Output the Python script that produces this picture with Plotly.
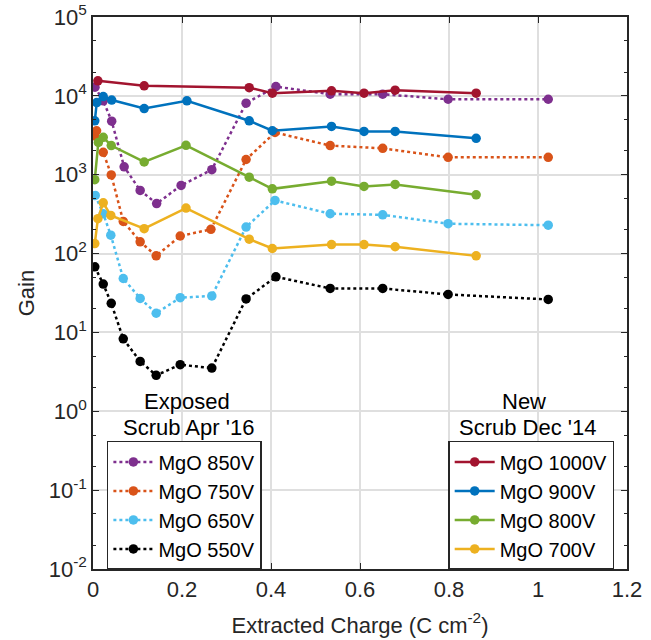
import plotly.graph_objects as go

# ---- data (Extracted charge in C/cm^2, gain) ----
x_1000 = [0.011, 0.115, 0.351, 0.403, 0.536, 0.609, 0.679, 0.861]
y_1000 = [15500, 13400, 12700, 10800, 11600, 10800, 11800, 10800]

x_900 = [0.004, 0.0085, 0.023, 0.042, 0.115, 0.211, 0.351, 0.403, 0.536, 0.609, 0.679, 0.861]
y_900 = [4830, 8230, 9800, 8850, 6910, 8650, 4830, 3610, 4100, 3540, 3540, 2890]

x_800 = [0.004, 0.012, 0.023, 0.041, 0.115, 0.209, 0.351, 0.403, 0.536, 0.609, 0.679, 0.861]
y_800 = [865, 2570, 2980, 2340, 1450, 2360, 930, 662, 828, 710, 752, 556]

x_700 = [0.004, 0.011, 0.023, 0.040, 0.115, 0.209, 0.351, 0.403, 0.536, 0.609, 0.679, 0.861]
y_700 = [134, 277, 440, 305, 207, 378, 152, 116, 130, 130, 122, 93.5]

x_850 = [0.0045, 0.023, 0.042, 0.070, 0.106, 0.143, 0.198, 0.267, 0.344, 0.411, 0.533, 0.651, 0.798, 1.023]
y_850 = [12900, 8650, 4770, 1260, 632, 430, 731, 1160, 8070, 13100, 10500, 10500, 9060, 9060]

x_750 = [0.004, 0.008, 0.023, 0.041, 0.068, 0.106, 0.142, 0.196, 0.265, 0.344, 0.409, 0.533, 0.651, 0.798, 1.023]
y_750 = [3120, 3610, 1920, 994, 256, 141, 93.5, 167, 203, 1560, 3430, 2340, 2160, 1660, 1660]

x_650 = [0.005, 0.023, 0.040, 0.068, 0.106, 0.142, 0.196, 0.267, 0.344, 0.409, 0.533, 0.651, 0.798, 1.023]
y_650 = [546, 320, 171, 48.3, 27.0, 17.5, 27.6, 29.0, 217, 472, 320, 310, 239, 229]

x_550 = [0.004, 0.023, 0.041, 0.068, 0.106, 0.142, 0.196, 0.267, 0.344, 0.411, 0.533, 0.651, 0.798, 1.023]
y_550 = [67.9, 41.1, 23.4, 8.3, 4.29, 2.86, 3.90, 3.53, 26.6, 50.8, 36.1, 36.1, 30.3, 26.2]

y_tick_exp = [-2, -1, 0, 1, 2, 3, 4, 5]
x_ticks = [0, 0.2, 0.4, 0.6, 0.8, 1.0, 1.2]
x_tick_text = ["0", "0.2", "0.4", "0.6", "0.8", "1", "1.2"]

FONT = "Liberation Sans, Arial, sans-serif"
AX = "#262626"

fig = go.Figure()

dotted = [
    ("MgO 850V", x_850, y_850, "#7E2F8E"),
    ("MgO 750V", x_750, y_750, "#D95319"),
    ("MgO 650V", x_650, y_650, "#4DBEEE"),
    ("MgO 550V", x_550, y_550, "#000000"),
]
solid = [
    ("MgO 1000V", x_1000, y_1000, "#A2142F"),
    ("MgO 900V", x_900, y_900, "#0072BD"),
    ("MgO 800V", x_800, y_800, "#77AC30"),
    ("MgO 700V", x_700, y_700, "#EDB120"),
]

for name, xs, ys, col in dotted:
    fig.add_trace(go.Scatter(x=xs, y=ys, name=name, mode="lines+markers",
                             line=dict(color=col, width=2.5, dash="dot"),
                             marker=dict(color=col, size=9.5, symbol="circle"),
                             legend="legend"))
for name, xs, ys, col in solid:
    fig.add_trace(go.Scatter(x=xs, y=ys, name=name, mode="lines+markers",
                             line=dict(color=col, width=2.5),
                             marker=dict(color=col, size=9.5, symbol="circle"),
                             legend="legend2"))

legend_common = dict(
    bgcolor="white", bordercolor=AX, borderwidth=1.5,
    font=dict(family=FONT, size=20, color="black"),
    tracegroupgap=0, itemwidth=40, yanchor="top",
)

fig.update_layout(
    width=651, height=640,
    margin=dict(l=93, r=24, t=17, b=71),
    paper_bgcolor="white", plot_bgcolor="white",
    font=dict(family=FONT, size=21, color=AX),
    legend=dict(x=0.026, y=0.232, xanchor="left", **legend_common),
    legend2=dict(x=0.976, y=0.232, xanchor="right", **legend_common),
    xaxis=dict(
        range=[0, 1.2], tickvals=x_ticks, ticktext=x_tick_text,
        ticks="inside", ticklen=6, tickcolor=AX, automargin=False,
        ticklabeloverflow="allow",
        showline=True, linecolor=AX, linewidth=1.5, mirror="ticks",
        showgrid=True, gridcolor="#DFDFDF", gridwidth=1.5, zeroline=False,
        tickfont=dict(family=FONT, size=22, color=AX),
        title=dict(text="Extracted Charge (C cm<sup>-2</sup>)",
                   font=dict(family=FONT, size=22, color=AX), standoff=16),
    ),
    yaxis=dict(
        type="log", range=[-2, 5], automargin=False,
        ticklabeloverflow="allow",
        tickvals=[10 ** e for e in y_tick_exp],
        ticktext=["10<sup>%d</sup>" % e for e in y_tick_exp],
        ticks="inside", ticklen=6, tickcolor=AX,
        minor=dict(ticks="inside", ticklen=3, tickcolor=AX, showgrid=False),
        showline=True, linecolor=AX, linewidth=1.5, mirror="ticks",
        showgrid=True, gridcolor="#DFDFDF", gridwidth=1.5, zeroline=False,
        tickfont=dict(family=FONT, size=22, color=AX),
        title=dict(text="Gain", font=dict(family=FONT, size=22, color=AX), standoff=8),
    ),
    annotations=[
        dict(x=0.212, y=0.13, xref="x", yref="y", text="Exposed", showarrow=False,
             font=dict(family=FONT, size=22, color="black")),
        dict(x=0.215, y=-0.2, xref="x", yref="y", text="Scrub Apr '16", showarrow=False,
             font=dict(family=FONT, size=22, color="black")),
        dict(x=0.968, y=0.13, xref="x", yref="y", text="New", showarrow=False,
             font=dict(family=FONT, size=22, color="black")),
        dict(x=0.978, y=-0.2, xref="x", yref="y", text="Scrub Dec '14", showarrow=False,
             font=dict(family=FONT, size=22, color="black")),
    ],
)

fig.write_html("out.html")
